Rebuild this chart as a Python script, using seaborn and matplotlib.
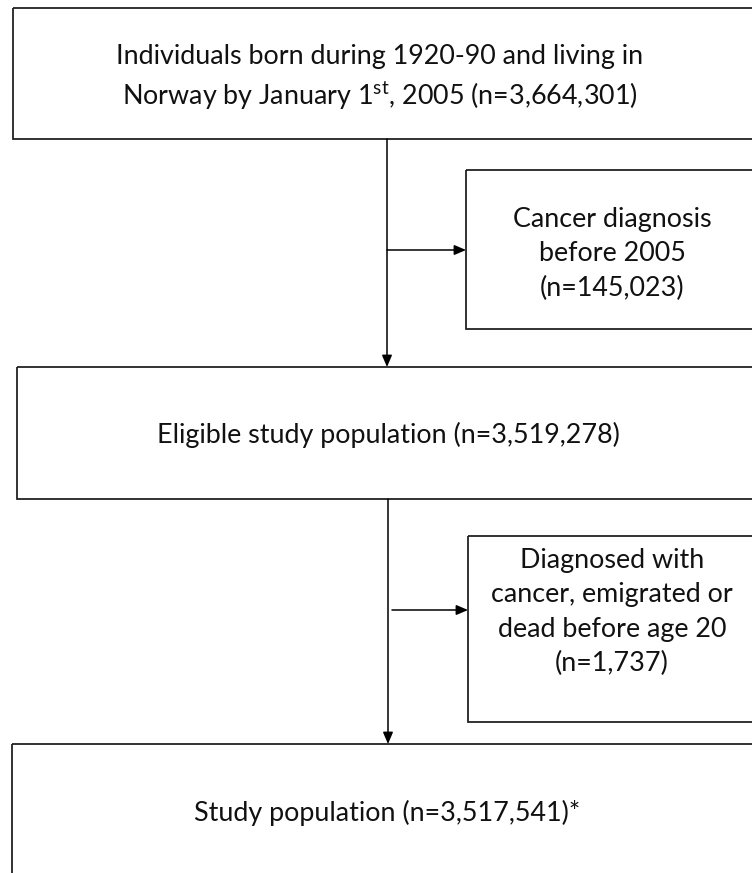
import matplotlib
matplotlib.use("Agg")
import matplotlib.pyplot as plt
from matplotlib.patches import Rectangle
import seaborn as sns

# ---- data ----
box_labels = [
    "Individuals born during 1920-90 and living in\nNorway by January 1$^{\\mathrm{st}}$, 2005 (n=@N)",
    "Cancer diagnosis\nbefore 2005\n(n=@N)",
    "Eligible study population (n=@N)",
    "Diagnosed with\ncancer, emigrated or\ndead before age 20\n(n=@N)",
    "Study population (n=@N)*",
]
box_counts = [3664301, 145023, 3519278, 1737, 3517541]
box_kinds = ["main", "exclusion", "main", "exclusion", "main"]

sns.set_style("white")
plt.rcParams["font.family"] = ["Lato", "DejaVu Sans"]
plt.rcParams["mathtext.fontset"] = "custom"
plt.rcParams["mathtext.rm"] = "Lato"

W, H = 752, 873
fig = plt.figure(figsize=(W / 100, H / 100), dpi=100)
ax = fig.add_axes([0, 0, 1, 1])
ax.set_xlim(0, W)
ax.set_ylim(H, 0)
ax.axis("off")

# layout (pixel geometry)
geom = [
    (13, 8, 800, 131),     # x, y, w, h
    (466, 170, 400, 159),
    (17, 367, 800, 132),
    (468, 536, 400, 186),
    (12, 744, 800, 200),
]
text_pos = [(380, 78), (612, 254), (388, 435), (612, 612), (387, 813)]
spacing = {"main": 1.42, "exclusion": 1.48}
lw = 1.3
ec = "#222222"

for (x, y, w, h), lab, n, (tx, ty), kind in zip(geom, box_labels, box_counts, text_pos, box_kinds):
    ax.add_patch(Rectangle((x, y), w, h, fill=False, ec=ec, lw=lw))
    ax.text(tx, ty, lab.replace("@N", f"{n:,}"), ha="center", va="center",
            fontsize=19.4, linespacing=spacing[kind], color="#111111")

arrow = dict(arrowstyle="-|>,head_length=0.7,head_width=0.3", color="black", lw=1.1,
             shrinkA=0, shrinkB=0)
# vertical flows
ax.annotate("", xy=(387, 367), xytext=(387, 139), arrowprops=arrow)
ax.annotate("", xy=(388, 744), xytext=(388, 499), arrowprops=arrow)
# side exclusions
ax.annotate("", xy=(466, 250), xytext=(387, 250), arrowprops=arrow)
ax.annotate("", xy=(468, 610), xytext=(392, 610), arrowprops=arrow)

fig.savefig("out.png", dpi=100)
